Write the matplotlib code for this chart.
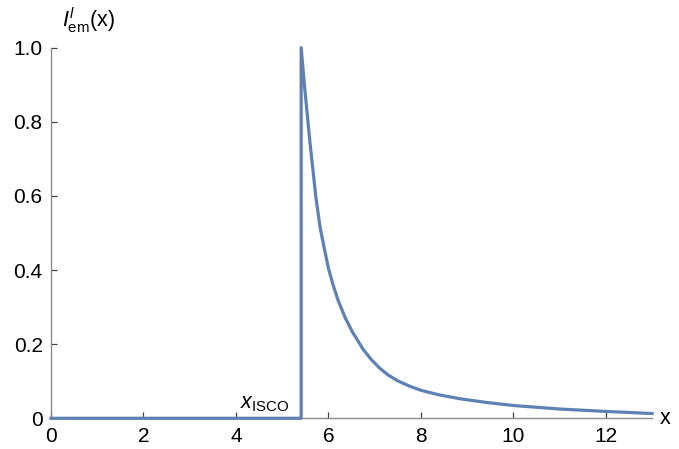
import matplotlib
matplotlib.use("Agg")
import matplotlib.pyplot as plt

plt.rcParams["font.family"] = "Liberation Sans"
plt.rcParams["mathtext.fontset"] = "custom"
plt.rcParams["mathtext.rm"] = "Liberation Sans"
plt.rcParams["mathtext.it"] = "Liberation Sans:italic"

# emitted intensity profile, zero inside the ISCO
x_isco = 5.41
x_vals = [5.41, 5.48, 5.60, 5.73, 5.82, 5.90, 6.00, 6.10, 6.21, 6.36, 6.51,
          6.75, 6.93, 7.11, 7.30, 7.50, 7.75, 8.00, 8.40, 8.88, 9.40, 10.0,
          11.0, 12.0, 13.0]
i_vals = [1.0, 0.90, 0.745, 0.595, 0.515, 0.465, 0.405, 0.360, 0.318, 0.272,
          0.235, 0.186, 0.158, 0.135, 0.116, 0.101, 0.087, 0.0755, 0.063,
          0.052, 0.043, 0.0345, 0.025, 0.0185, 0.0128]

x_ticks = [0, 2, 4, 6, 8, 10, 12]
y_ticks = [0, 0.2, 0.4, 0.6, 0.8, 1.0]
y_ticklabels = ["0", "0.2", "0.4", "0.6", "0.8", "1.0"]

line_color = "#5E81B5"

fig = plt.figure(figsize=(6.79, 4.49), dpi=100)
ax = fig.add_axes([0.0751, 0.0684, 0.8853, 0.8254])

xs = [0, x_isco] + x_vals
ys = [0, 0] + i_vals
ax.plot(xs, ys, color=line_color, lw=2.3, clip_on=False, zorder=3,
        solid_joinstyle="round")

ax.set_xlim(0, 13)
ax.set_ylim(0, 1.0)
ax.set_xticks(x_ticks)
ax.set_yticks(y_ticks)
ax.set_yticklabels(y_ticklabels)

for side in ["top", "right"]:
    ax.spines[side].set_visible(False)
for side in ["left", "bottom"]:
    ax.spines[side].set_color("#8c8c8c")
    ax.spines[side].set_linewidth(1.0)

ax.tick_params(direction="in", length=4.5, width=0.9, color="#444444",
               labelsize=15, pad=6)

ax.text(4.62, 0.012, r"$x_{\rm ISCO}$", fontsize=15.5, ha="center", va="bottom")
ax.text(1.012, 0.0, "x", transform=ax.transAxes, fontsize=15.5,
        ha="left", va="center")
ax.text(0.018, 1.035, r"$I^{l}_{\rm em}$(x)", transform=ax.transAxes,
        fontsize=15.5, ha="left", va="bottom")

fig.savefig("out.png", dpi=100)
